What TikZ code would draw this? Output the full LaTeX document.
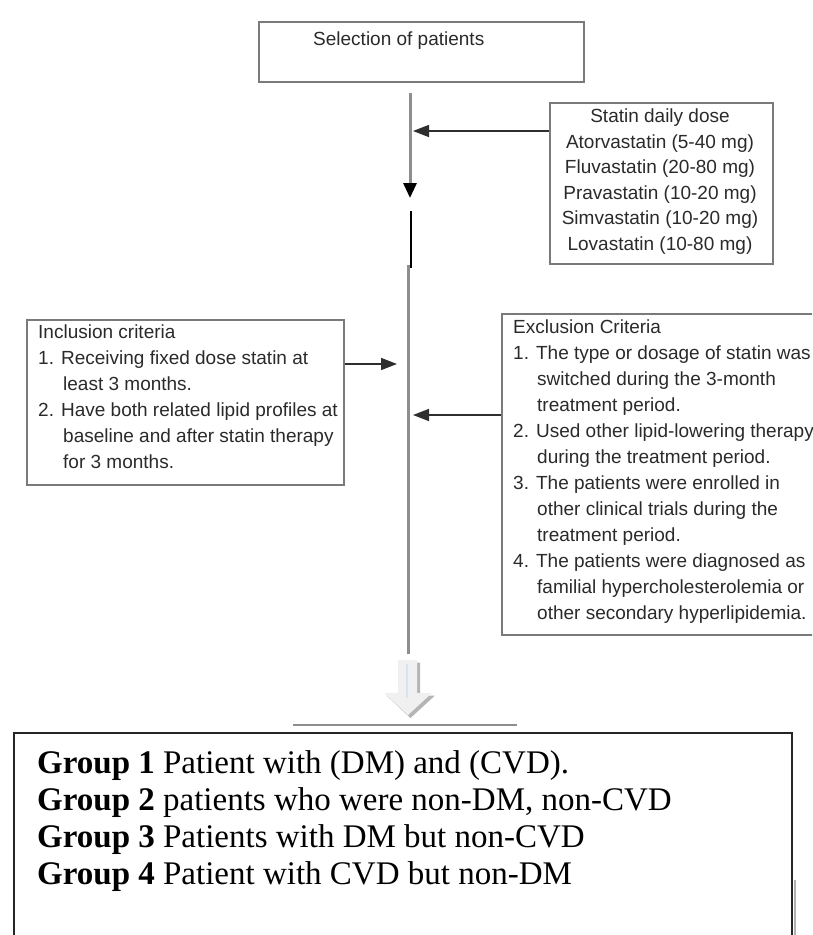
\documentclass[tikz,border=0pt]{standalone}
\usepackage{fontspec}
\setmainfont{Liberation Serif}
\newfontfamily\arialf{Liberation Sans}
\usetikzlibrary{arrows.meta}
\definecolor{txtc}{HTML}{2A2A2A}
\definecolor{boxc}{HTML}{7A7A7A}
\definecolor{trunkc}{HTML}{8E8E8E}
\definecolor{arrc}{HTML}{2E2E2E}
\definecolor{hollowf}{HTML}{F0F0F0}
\definecolor{hollows}{HTML}{B5B5B5}
\definecolor{hollowb}{HTML}{D4E4F4}
\begin{document}
\begin{tikzpicture}[x=1pt,y=-1pt,
 box/.style={draw=boxc, line width=1.6pt, rectangle, inner sep=0pt},
 gbox/.style={draw=black!85, line width=1.8pt, rectangle, inner sep=0pt},
 stxt/.style={font=\arialf\fontsize{19}{26}\selectfont, text=txtc, inner sep=0pt},
 gtxt/.style={font=\fontsize{33}{37}\selectfont, text=black, inner sep=0pt},
 arr/.style={draw=arrc, line width=1.6pt, -{Triangle[length=16pt,width=12pt]}},
 trunk/.style={draw=trunkc, line width=3pt},
]
\useasboundingbox (0,0) rectangle (812,935);
\clip (0,0) rectangle (812,935);

% top box
\node[box, minimum width=325pt, minimum height=60pt, anchor=north west] (sel) at (258,21) {};
\node[stxt, anchor=west] (seltxt) at (313,41) {Selection of patients};

% statin dose box
\node[box, minimum width=223pt, minimum height=161pt, anchor=north west] (dose) at (549,102) {};
\node[stxt, align=center, anchor=north, font=\arialf\fontsize{19}{25.5}\selectfont] (dosetxt) at (660,109)
 {Statin daily dose\\Atorvastatin (5-40 mg)\\Fluvastatin (20-80 mg)\\Pravastatin (10-20 mg)\\Simvastatin (10-20 mg)\\Lovastatin (10-80 mg)};

% inclusion box
\node[box, minimum width=317pt, minimum height=165pt, anchor=north west] (incl) at (26,319) {};
\node[stxt, align=left, anchor=north west] (incltxt) at (38,325)
 {Inclusion criteria\\
  1. Receiving fixed dose statin at\\
  \hspace*{25pt}least 3 months.\\
  2. Have both related lipid profiles at\\
  \hspace*{25pt}baseline and after statin therapy\\
  \hspace*{25pt}for 3 months.};

% exclusion box
\node[box, minimum width=330pt, minimum height=321pt, anchor=north west] (excl) at (501,313) {};
\node[stxt, align=left, anchor=north west] (excltxt) at (513,320)
 {Exclusion Criteria\\
  1. The type or dosage of statin was\\
  \hspace*{24pt}switched during the 3-month\\
  \hspace*{24pt}treatment period.\\
  2. Used other lipid-lowering therapy\\
  \hspace*{24pt}during the treatment period.\\
  3. The patients were enrolled in\\
  \hspace*{24pt}other clinical trials during the\\
  \hspace*{24pt}treatment period.\\
  4. The patients were diagnosed as\\
  \hspace*{24pt}familial hypercholesterolemia or\\
  \hspace*{24pt}other secondary hyperlipidemia.};

% trunk coordinates
\coordinate (t0) at (410,93);
\coordinate (t1) at (410,198);
\coordinate (s0) at (411,211);
\coordinate (s1) at (411,268);
\coordinate (m0) at (408,265);
\coordinate (m1) at (408,654);
\coordinate (a1) at (413,131);
\coordinate (a2) at (397,364);
\coordinate (a3) at (413,415);

\draw[trunk, -{Triangle[length=15pt,width=13pt,color=black]}] (t0) -- (t1);
\draw[black, line width=2pt] (s0) -- (s1);
\draw[trunk] (m0) -- (m1);

\draw[arr] (dose.west |- a1) -- (a1);
\draw[arr] (incl.east |- a2) -- (a2);
\draw[arr] (excl.west |- a3) -- (a3);

% hollow block arrow
\fill[hollows] (400.5,662.5) -- (420,662.5) -- (420,695.5) -- (435,695.5) -- (410.5,718) -- (386.5,695.5) -- (400.5,695.5) -- cycle;
\fill[hollowf] (398,660) -- (417,660) -- (417,693) -- (432,693) -- (408,715) -- (384,693) -- (398,693) -- cycle;
\draw[hollowb, line width=2pt] (407,664) -- (407,698);

% separator line
\coordinate (h0) at (293,725);
\coordinate (h1) at (517,725);
\draw[trunkc, line width=2pt] (h0) -- (h1);

% group box
\node[gbox, minimum width=778pt, minimum height=240pt, anchor=north west] (grp) at (13,732) {};
\node[gtxt, align=left, anchor=north west] (grptxt) at (37,750)
 {\textbf{Group 1} Patient with (DM) and (CVD).\\
  \textbf{Group 2} patients who were non-DM, non-CVD\\
  \textbf{Group 3} Patients with DM but non-CVD\\
  \textbf{Group 4} Patient with CVD but non-DM};
\coordinate (e0) at (795,880);
\coordinate (e1) at (795,935);
\draw[gray!60, line width=1.5pt] (e0) -- (e1);
\end{tikzpicture}
\end{document}
